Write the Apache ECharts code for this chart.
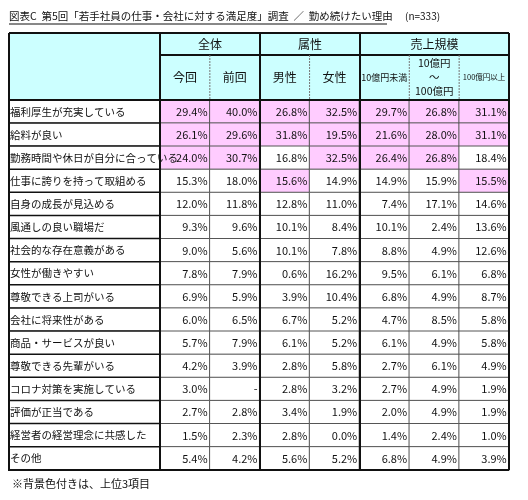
<!DOCTYPE html><html><head><meta charset="utf-8">
<script src="https://cdn.jsdelivr.net/npm/echarts@6/dist/echarts.min.js"></script>
<style>html,body{margin:0;padding:0;background:#fff}#c{width:528px;height:500px}</style></head><body><div id="c"></div>
<script>
const rows=['福利厚生が充実している','給料が良い','勤務時間や休日が自分に合っている','仕事に誇りを持って取組める','自身の成長が見込める','風通しの良い職場だ','社会的な存在意義がある','女性が働きやすい','尊敬できる上司がいる','会社に将来性がある','商品・サービスが良い','尊敬できる先輩がいる','コロナ対策を実施している','評価が正当である','経営者の経営理念に共感した','その他'];
const cols=['今回','前回','男性','女性','10億円未満','10億円～100億円','100億円以上'];
const groups=['全体','属性','売上規模'];
const konkai=[29.4,26.1,24.0,15.3,12.0,9.3,9.0,7.8,6.9,6.0,5.7,4.2,3.0,2.7,1.5,5.4];
const zenkai=[40.0,29.6,30.7,18.0,11.8,9.6,5.6,7.9,5.9,6.5,7.9,3.9,null,2.8,2.3,4.2];
const male=[26.8,31.8,16.8,15.6,12.8,10.1,10.1,0.6,3.9,6.7,6.1,2.8,2.8,3.4,2.8,5.6];
const female=[32.5,19.5,32.5,14.9,11.0,8.4,7.8,16.2,10.4,5.2,5.2,5.8,3.2,1.9,0.0,5.2];
const small=[29.7,21.6,26.4,14.9,7.4,10.1,8.8,9.5,6.8,4.7,6.1,2.7,2.7,2.0,1.4,6.8];
const mid=[26.8,28.0,26.8,15.9,17.1,2.4,4.9,6.1,4.9,8.5,4.9,6.1,4.9,4.9,2.4,4.9];
const large=[31.1,31.1,18.4,15.5,14.6,13.6,12.6,6.8,8.7,5.8,5.8,4.9,1.9,1.9,1.0,3.9];
const top3=[[0,1,2],[0,1,2],[0,1,3],[0,1,2],[0,1,2],[0,1,2],[0,1,3]];
const series=[konkai,zenkai,male,female,small,mid,large];
const data=[];
series.forEach((s,x)=>s.forEach((v,y)=>data.push({value:[x,y,v==null?0:v],raw:v,
 itemStyle:{color:top3[x].includes(y)?'#ffccff':'#ffffff'}})));
const labData=rows.map((r,y)=>({value:[0,y,0],name:r}));
const F='"Noto Sans CJK JP"';
const L=9,M=160,R=509,T=33,H2=55,B0=100,B=470;
const gx=[M,260,360,R];
const cw=(R-M)/7;
const g=[];
g.push({type:'rect',shape:{x:L,y:T,width:R-L,height:B0-T},style:{fill:'#ccffff'},z:1});
g.push({type:'text',x:L,y:16,style:{text:'図表C  第5回「若手社員の仕事・会社に対する満足度」調査  ／  勤め続けたい理由',font:'10.5px '+F,fill:'#111',verticalAlign:'middle'}});
g.push({type:'line',shape:{x1:L,y1:24,x2:387,y2:24},style:{stroke:'#111',lineWidth:1}});
g.push({type:'text',x:405,y:16,style:{text:'(n=333)',font:'10px '+F,fill:'#111',verticalAlign:'middle'}});
g.push({type:'text',x:L+3,y:484,style:{text:'※背景色付きは、上位3項目',font:'11px '+F,fill:'#111',verticalAlign:'middle'}});
groups.forEach((t,i)=>g.push({type:'text',x:(gx[i]+gx[i+1])/2,y:(T+H2)/2,style:{text:t,font:'12px '+F,fill:'#111',align:'center',verticalAlign:'middle'},z:5}));
const sub=[['今回',12],['前回',12],['男性',12],['女性',12],['10億円未満',9],['10億円\n～\n100億円',10.5],['100億円以上',7.5]];
sub.forEach((s,i)=>g.push({type:'text',x:M+cw*(i+0.5),y:(H2+B0)/2,style:{text:s[0],font:s[1]+'px '+F,fill:'#111',align:'center',verticalAlign:'middle',lineHeight:14},z:5}));
g.push({type:'line',shape:{x1:M,y1:H2,x2:R,y2:H2},style:{stroke:'#111',lineWidth:2},z:6});
[1,3,5,6].forEach(i=>g.push({type:'line',shape:{x1:M+cw*i,y1:H2,x2:M+cw*i,y2:B0},style:{stroke:'#777',lineWidth:1,lineDash:[2,1]},z:6}));
gx.forEach(x=>g.push({type:'line',shape:{x1:x,y1:T,x2:x,y2:B},style:{stroke:'#111',lineWidth:2},z:6}));
g.push({type:'line',shape:{x1:L,y1:T,x2:L,y2:B},style:{stroke:'#111',lineWidth:2},z:6});
g.push({type:'line',shape:{x1:L,y1:T,x2:R,y2:T},style:{stroke:'#111',lineWidth:2},z:6});
g.push({type:'line',shape:{x1:L,y1:B0,x2:R,y2:B0},style:{stroke:'#111',lineWidth:2},z:6});
g.push({type:'line',shape:{x1:L,y1:B,x2:R,y2:B},style:{stroke:'#111',lineWidth:2},z:6});
const ax={type:'category',axisLine:{show:false},axisTick:{show:false},axisLabel:{show:false},splitLine:{show:false}};
const chart=echarts.init(document.getElementById('c'));
chart.setOption({animation:false,
 grid:[{left:L,width:M-L,top:B0,height:B-B0},{left:M,width:R-M,top:B0,height:B-B0}],
 xAxis:[Object.assign({gridIndex:0,data:['l']},ax),Object.assign({gridIndex:1,data:cols},ax)],
 yAxis:[Object.assign({gridIndex:0,data:rows,inverse:true},ax),Object.assign({gridIndex:1,data:rows,inverse:true},ax)],
 series:[
  {type:'heatmap',xAxisIndex:0,yAxisIndex:0,data:labData,itemStyle:{color:'#fff',borderColor:'#111',borderWidth:1.5},
   label:{show:true,position:'insideLeft',distance:2,formatter:p=>p.name,fontFamily:F,fontSize:10.5,color:'#111'}},
  {type:'heatmap',xAxisIndex:1,yAxisIndex:1,data:data,itemStyle:{borderColor:'#555',borderWidth:1},
   label:{show:true,position:'insideRight',distance:3,fontFamily:F,fontSize:11,color:'#111',
    formatter:p=>p.data.raw==null?'-':p.data.raw.toFixed(1)+'%'}}
 ],
 graphic:g});
</script></body></html>
